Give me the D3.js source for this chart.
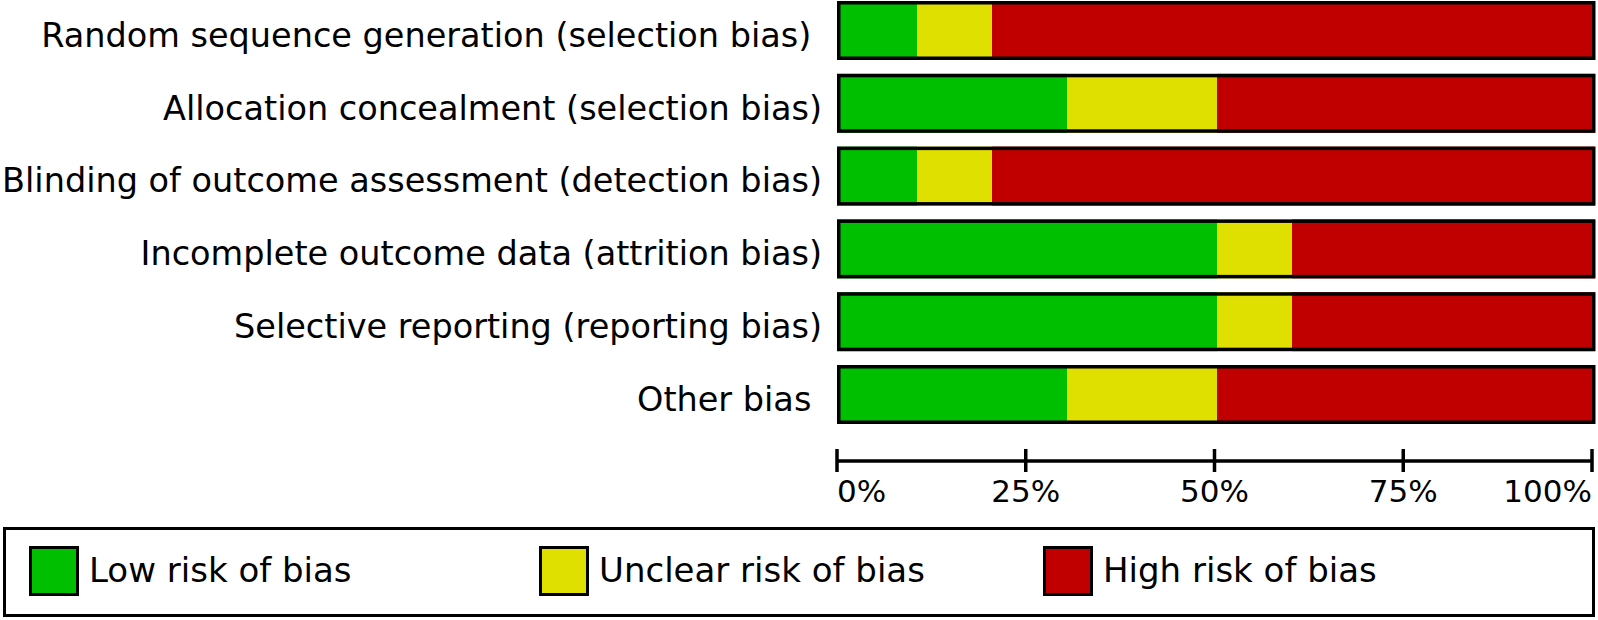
<!DOCTYPE html>
<html>
<head>
<meta charset="utf-8">
<script src="https://cdn.jsdelivr.net/npm/d3@7"></script>
<style>
  html, body { margin: 0; padding: 0; background: #fff; }
  svg { display: block; }
  text { font-family: "DejaVu Sans", sans-serif; fill: #000; white-space: pre; }
</style>
</head>
<body>
<svg id="chart" width="1598" height="620"></svg>
<script>
const categories = [
  "Random sequence generation (selection bias) ",
  "Allocation concealment (selection bias)",
  "Blinding of outcome assessment (detection bias)",
  "Incomplete outcome data (attrition bias)",
  "Selective reporting (reporting bias)",
  "Other bias "
];
const lowRisk     = [10, 30, 10, 50, 50, 30];
const unclearRisk = [10, 20, 10, 10, 10, 20];
const highRisk    = [80, 50, 80, 40, 40, 50];
const tickValues  = [0, 25, 50, 75, 100];
const tickLabels  = ["0%", "25%", "50%", "75%", "100%"];
const seriesNames = ["Low risk of bias", "Unclear risk of bias", "High risk of bias"];
const seriesColors = ["#00bf00", "#e0e000", "#c00000"];

const svg = d3.select("#chart");

const xAxisScale = d3.scaleLinear().domain([0, 100]).range([837, 1592]);
const xBar = d3.scaleLinear().domain([0, 100]).range([842, 1592]);
const y = d3.scaleBand().domain(categories).range([-5.9, 430.9]).paddingInner(0.19).paddingOuter(0.095);

const series = [lowRisk, unclearRisk, highRisk];
const rows = categories.map((c, i) => {
  let cum = 0;
  const segs = series.map((s, k) => {
    const seg = { cat: c, k, start: cum, end: cum + s[i] };
    cum += s[i];
    return seg;
  });
  return { cat: c, segs };
});

const g = svg.append("g");
const rowG = g.selectAll("g.row").data(rows).join("g").attr("class", "row");

rowG.selectAll("rect.seg").data(d => d.segs).join("rect")
  .attr("class", "seg")
  .attr("x", d => d.k === 0 ? xAxisScale(0) : xBar(d.start))
  .attr("width", d => (d.k === 2 ? xAxisScale(100) + 3 : xBar(d.end)) - (d.k === 0 ? xAxisScale(0) : xBar(d.start)))
  .attr("y", d => y(d.cat))
  .attr("height", y.bandwidth())
  .attr("fill", d => seriesColors[d.k]);

rowG.append("rect")
  .attr("x", xAxisScale(0) + 1.75)
  .attr("y", d => y(d.cat) + 1.75)
  .attr("width", xAxisScale(100) - xAxisScale(0))
  .attr("height", y.bandwidth() - 3.5)
  .attr("fill", "none")
  .attr("stroke", "#000")
  .attr("stroke-width", 3.5);

rowG.append("text")
  .attr("x", 822)
  .attr("y", d => y(d.cat) + y.bandwidth() / 2 + 16.2)
  .attr("text-anchor", "end")
  .attr("xml:space", "preserve")
  .style("font-size", "33.5px")
  .text(d => d.cat);

// Axis
const axisY = 461;
const axisG = svg.append("g");
axisG.append("line")
  .attr("x1", xAxisScale(0)).attr("x2", xAxisScale(100))
  .attr("y1", axisY).attr("y2", axisY)
  .attr("stroke", "#000").attr("stroke-width", 3.5);
axisG.selectAll("line.tick").data(tickValues).join("line")
  .attr("class", "tick")
  .attr("x1", d => xAxisScale(d)).attr("x2", d => xAxisScale(d))
  .attr("y1", 449).attr("y2", 472)
  .attr("stroke", "#000").attr("stroke-width", 3.5);
axisG.selectAll("text").data(tickValues).join("text")
  .attr("x", d => xAxisScale(d))
  .attr("y", 501.5)
  .attr("text-anchor", (d, i) => i === 0 ? "start" : (i === tickValues.length - 1 ? "end" : "middle"))
  .style("font-size", "31px")
  .text((d, i) => tickLabels[i]);

// Legend
const legend = svg.append("g");
legend.append("rect")
  .attr("x", 4.5).attr("y", 528.5)
  .attr("width", 1589).attr("height", 87)
  .attr("fill", "none").attr("stroke", "#000").attr("stroke-width", 3);
const legendX = [29, 539, 1043];
const items = legend.selectAll("g.item").data(seriesNames).join("g").attr("class", "item");
items.append("rect")
  .attr("x", (d, i) => legendX[i] + 1.5)
  .attr("y", 547.5)
  .attr("width", 47).attr("height", 47)
  .attr("fill", (d, i) => seriesColors[i])
  .attr("stroke", "#000").attr("stroke-width", 3);
items.append("text")
  .attr("x", (d, i) => legendX[i] + 60)
  .attr("y", 581.5)
  .style("font-size", "34px")
  .text(d => d);
</script>
</body>
</html>
